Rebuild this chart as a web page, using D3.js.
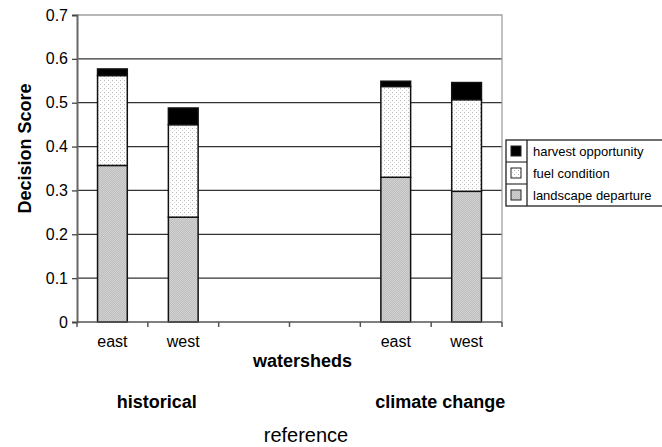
<!DOCTYPE html>
<html>
<head>
<meta charset="utf-8">
<script src="https://cdn.jsdelivr.net/npm/d3@7.9.0/dist/d3.min.js"></script>
<style>
  body { margin: 0; background: #fff; }
  text { font-family: "Liberation Sans", Arial, sans-serif; fill: #000; }
</style>
</head>
<body>
<svg id="chart" width="662" height="447"></svg>
<script>
// slots along the x axis (two empty slots between the scenarios)
const categories = ['east', 'west', '', '', 'east', 'west'];
const landscape = [0.357, 0.239, null, null, 0.33, 0.298];
const fuel = [0.205, 0.211, null, null, 0.207, 0.209];
const harvest = [0.015, 0.038, null, null, 0.012, 0.039];
const yTicks = [0, 0.1, 0.2, 0.3, 0.4, 0.5, 0.6, 0.7];
const seriesNames = ['harvest opportunity', 'fuel condition', 'landscape departure'];
const groups = [
  { label: 'historical', from: 0, to: 1 },
  { label: 'climate change', from: 4, to: 5 },
];

const svg = d3.select('#chart');
const margin = { left: 77, right: 160, top: 15, bottom: 125 };
const W = 662, H = 447;

const x = d3.scaleBand()
  .domain(d3.range(categories.length))
  .range([margin.left, W - margin.right]);
const y = d3.scaleLinear().domain([0, 0.7]).range([H - margin.bottom, margin.top]);

// patterns
const defs = svg.append('defs');
const hatch = defs.append('pattern')
  .attr('id', 'hatch')
  .attr('patternUnits', 'userSpaceOnUse')
  .attr('width', 2).attr('height', 2);
hatch.append('rect').attr('width', 2).attr('height', 2).attr('fill', '#d2d2d2');
hatch.append('path').attr('d', 'M0,2 L2,0').attr('stroke', '#b0b0b0').attr('stroke-width', 0.6);

const dots = defs.append('pattern')
  .attr('id', 'dots')
  .attr('patternUnits', 'userSpaceOnUse')
  .attr('width', 4).attr('height', 4);
dots.append('rect').attr('width', 4).attr('height', 4).attr('fill', '#fff');
dots.append('rect').attr('x', 0).attr('y', 0).attr('width', 1).attr('height', 1).attr('fill', '#b5b5b5');
dots.append('rect').attr('x', 2).attr('y', 2).attr('width', 1).attr('height', 1).attr('fill', '#d5d5d5');

const fills = { landscape: 'url(#hatch)', fuel: 'url(#dots)', harvest: '#000' };

// gridlines
svg.append('g')
  .selectAll('line')
  .data(yTicks.filter((d) => d > 0 && d < 0.7))
  .join('line')
  .attr('x1', margin.left).attr('x2', W - margin.right)
  .attr('y1', (d) => y(d)).attr('y2', (d) => y(d))
  .attr('stroke', '#333').attr('stroke-width', 1.3);

// top and right border
svg.append('path')
  .attr('d', `M${margin.left},${y(0.7)}H${W - margin.right}V${y(0)}`)
  .attr('fill', 'none').attr('stroke', '#a0a0a0').attr('stroke-width', 1.3);

// y axis
const yAxis = svg.append('g')
  .attr('transform', `translate(${margin.left},0)`)
  .call(d3.axisLeft(y).tickValues(yTicks).tickFormat((d) => (d === 0 ? '0' : d.toFixed(1))).tickSize(5).tickPadding(4));
yAxis.select('.domain').attr('stroke', '#666').attr('stroke-width', 2);
yAxis.selectAll('.tick line').attr('stroke', '#444').attr('stroke-width', 1.3);
yAxis.selectAll('.tick text').attr('font-size', 16).attr('font-family', '"Liberation Sans", Arial, sans-serif').attr('fill', '#000');

// bars
const stacks = categories.map((c, i) => {
  if (landscape[i] == null) return [];
  const a = landscape[i], b = a + fuel[i], t = b + harvest[i];
  return [
    { i, key: 'landscape', y0: 0, y1: a },
    { i, key: 'fuel', y0: a, y1: b },
    { i, key: 'harvest', y0: b, y1: t },
  ];
}).flat();

const bw = x.bandwidth() * 0.42;
svg.append('g')
  .selectAll('rect')
  .data(stacks)
  .join('rect')
  .attr('x', (d) => x(d.i) + (x.bandwidth() - bw) / 2)
  .attr('width', bw)
  .attr('y', (d) => y(d.y1))
  .attr('height', (d) => y(d.y0) - y(d.y1))
  .attr('fill', (d) => fills[d.key])
  .attr('stroke', '#111')
  .attr('stroke-width', 1.5);

// x axis
const xAxis = svg.append('g')
  .attr('transform', `translate(0,${y(0)})`);
xAxis.append('line')
  .attr('x1', margin.left).attr('x2', W - margin.right)
  .attr('stroke', '#555').attr('stroke-width', 1.5);
xAxis.selectAll('.tk')
  .data(d3.range(categories.length + 1))
  .join('line')
  .attr('class', 'tk')
  .attr('x1', (d) => margin.left + d * x.step())
  .attr('x2', (d) => margin.left + d * x.step())
  .attr('y1', 0).attr('y2', 5)
  .attr('stroke', '#555').attr('stroke-width', 1.5);
xAxis.selectAll('text')
  .data(categories.map((c, i) => ({ c, i })).filter((d) => d.c))
  .join('text')
  .attr('x', (d) => x(d.i) + x.bandwidth() / 2)
  .attr('y', 25)
  .attr('text-anchor', 'middle')
  .attr('font-size', 16)
  .text((d) => d.c);

// titles
svg.append('text')
  .attr('transform', `translate(31,${y(0.35) - 20}) rotate(-90)`)
  .attr('text-anchor', 'middle')
  .attr('font-size', 18).attr('font-weight', 'bold')
  .text('Decision Score');

svg.append('text')
  .attr('x', (margin.left + W - margin.right) / 2 + 13)
  .attr('y', 367)
  .attr('text-anchor', 'middle')
  .attr('font-size', 18).attr('font-weight', 'bold')
  .text('watersheds');

svg.selectAll('.grp')
  .data(groups)
  .join('text')
  .attr('class', 'grp')
  .attr('x', (d) => (x(d.from) + x(d.to) + x.bandwidth()) / 2 + 9)
  .attr('y', 408)
  .attr('text-anchor', 'middle')
  .attr('font-size', 18).attr('font-weight', 'bold')
  .text((d) => d.label);

svg.append('text')
  .attr('x', 306)
  .attr('y', 442)
  .attr('text-anchor', 'middle')
  .attr('font-size', 20)
  .text('reference');

// legend
const lg = svg.append('g').attr('transform', 'translate(506,140)');
const rowH = 22;
lg.append('rect')
  .attr('width', 170).attr('height', rowH * 3)
  .attr('fill', '#fff').attr('stroke', '#222').attr('stroke-width', 1.3);
lg.append('line')
  .attr('x1', 21).attr('x2', 21).attr('y1', 0).attr('y2', rowH * 3)
  .attr('stroke', '#222').attr('stroke-width', 1.3);
lg.selectAll('.sep')
  .data([1, 2])
  .join('line')
  .attr('class', 'sep')
  .attr('x1', 0).attr('x2', 21)
  .attr('y1', (d) => d * rowH).attr('y2', (d) => d * rowH)
  .attr('stroke', '#222').attr('stroke-width', 1.1);
const legendKeys = ['harvest', 'fuel', 'landscape'];
const rows = lg.selectAll('.row')
  .data(seriesNames)
  .join('g')
  .attr('class', 'row')
  .attr('transform', (d, i) => `translate(0,${i * rowH})`);
rows.append('rect')
  .attr('x', 5).attr('y', (rowH - 10) / 2)
  .attr('width', 10).attr('height', 10)
  .attr('fill', (d, i) => fills[legendKeys[i]])
  .attr('stroke', '#222').attr('stroke-width', 1);
rows.append('text')
  .attr('x', 27).attr('y', rowH / 2 + 4.5)
  .attr('font-size', 13)
  .text((d) => d);
</script>
</body>
</html>
